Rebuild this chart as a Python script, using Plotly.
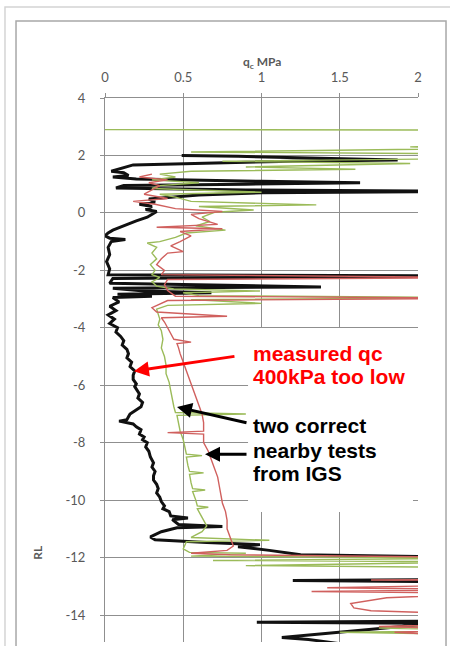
import plotly.graph_objects as go

# ---------------- data (qc in MPa, RL in m) ----------------
black_rl = [2.00, 1.97, 1.84, 1.80, 1.67, 1.55, 1.45, 1.40, 1.30, 1.25, 1.18, 1.10, 1.05, 1.00,
            0.95, 0.87, 0.80, 0.75, 0.70, 0.62, 0.55, 0.48, 0.38, 0.30, 0.22, 0.12, 0.05, -0.05,
            -0.15, -0.28, -0.40, -0.50, -0.60, -0.70, -0.80, -0.88, -0.93, -1.00, -1.20, -1.45,
            -1.70, -1.95, -2.15, -2.20, -2.28, -2.45, -2.55, -2.58, -2.62, -2.72, -2.78, -2.83,
            -2.90, -2.95, -3.10, -3.25, -3.40, -3.55, -3.70, -3.85, -4.00, -4.15, -4.30, -4.45,
            -4.60, -4.75, -4.90, -5.05, -5.20, -5.35, -5.50, -5.65, -5.80, -5.95, -6.05, -6.20,
            -6.30, -6.45, -6.60, -6.75, -6.85, -7.00, -7.10, -7.20, -7.25, -7.35, -7.45, -7.55,
            -7.70, -7.80, -7.90, -8.00, -8.15, -8.30, -8.50, -8.70, -8.85, -9.00, -9.15, -9.30,
            -9.45, -9.60, -9.75, -9.90, -10.05, -10.20, -10.30, -10.40, -10.55, -10.62, -10.68,
            -10.85, -10.92, -10.96, -11.10, -11.28, -11.38, -11.48, -11.55, -11.62, -11.75, -11.90,
            -12.00, -12.10, -12.75, -12.80, -12.85, -14.20, -14.25, -14.30, -14.35, -14.78, -14.85,
            -15.00]
black_qc = [0.49, 0.85, 1.87, 1.20, 0.18, 0.10, 0.04, 0.12, 0.15, 0.05, 0.20, 1.00, 1.63, 0.90,
            0.12, 0.07, 0.90, 2.50, 1.00, 0.60, 0.45, 0.28, 0.32, 0.22, 0.30, 0.26, 0.33, 0.30,
            0.27, 0.20, 0.14, 0.10, 0.05, 0.02, 0.00, 0.03, 0.13, 0.04, 0.02, 0.03,
            0.01, 0.03, 0.02, 2.50, 0.05, 0.03, 1.00, 1.38, 0.05, 0.25, 0.68, 0.08,
            0.30, 0.05, 0.09, 0.03, 0.07, 0.02, 0.06, 0.03, 0.08, 0.07, 0.10, 0.12,
            0.11, 0.14, 0.15, 0.14, 0.17, 0.16, 0.19, 0.18, 0.18, 0.20, 0.19, 0.21,
            0.22, 0.21, 0.24, 0.23, 0.20, 0.16, 0.15, 0.14, 0.09, 0.18, 0.20, 0.23,
            0.22, 0.25, 0.24, 0.27, 0.26, 0.28, 0.29, 0.31, 0.30, 0.32, 0.31, 0.31,
            0.33, 0.34, 0.33, 0.35, 0.36, 0.38, 0.37, 0.41, 0.42, 0.53, 0.43,
            0.47, 0.75, 0.46, 0.36, 0.29, 0.32, 0.65, 0.99, 0.85, 1.05, 1.25,
            2.50, 2.50, 2.50, 1.20, 2.50, 2.50, 0.97, 2.50, 2.00, 1.13, 1.30,
            1.50]

green_rl = [2.90, 2.88, 2.35, 2.30, 2.25, 2.12, 2.05, 1.90, 1.80, 1.72, 1.60, 1.52, 1.45, 1.35,
            1.25, 1.15, 1.05, 0.95, 0.85, 0.72, 0.65, 0.55, 0.40, 0.28, 0.22, 0.10, 0.02, -0.15,
            -0.30, -0.45, -0.60, -0.70, -0.85, -1.00, -1.05, -1.20, -1.40, -1.60, -1.80, -2.00,
            -2.15, -2.25, -2.40, -2.55, -2.65, -2.72, -2.78, -2.88, -2.95, -3.02, -3.15, -3.22,
            -3.35, -3.50, -3.70, -3.90, -4.10, -4.40, -4.70, -5.00, -5.30, -5.60, -5.90, -6.20,
            -6.50, -6.75, -6.95, -7.00, -7.05, -7.30, -7.60, -7.90, -8.20, -8.40, -8.45, -8.50,
            -8.80, -9.00, -9.05, -9.10, -9.40, -9.60, -9.65, -9.70, -10.00, -10.20, -10.25,
            -10.30, -10.60, -10.90, -11.10, -11.30, -11.40, -11.45, -11.70, -11.82, -11.85,
            -11.95, -12.02, -12.10, -12.15, -12.28, -12.35, -14.35, -14.45, -14.55, -14.60,
            -14.70, -15.00]
green_qc = [0.00, 2.50, 2.50, 1.95, 2.50, 0.55, 2.50, 2.50, 0.75, 1.95, 0.90, 1.60, 0.55, 0.35,
            0.45, 0.30, 0.60, 0.35, 0.30, 1.00, 0.35, 0.45, 0.55, 1.35, 0.60, 0.95, 0.70, 0.62,
            0.67, 0.58, 0.77, 0.52, 0.45, 0.35, 0.27, 0.33, 0.30, 0.33, 0.29, 0.32,
            0.30, 0.35, 0.30, 0.33, 0.44, 0.99, 0.50, 0.60, 2.50, 0.55, 1.00, 0.40,
            0.33, 0.34, 0.35, 0.34, 0.36, 0.37, 0.36, 0.38, 0.39, 0.39, 0.41, 0.42,
            0.43, 0.44, 0.45, 0.90, 0.46, 0.47, 0.48, 0.50, 0.51, 0.52, 0.62, 0.52,
            0.53, 0.54, 0.63, 0.54, 0.55, 0.56, 0.64, 0.56, 0.58, 0.59, 0.66,
            0.59, 0.62, 0.65, 0.62, 0.55, 1.05, 0.52, 0.50, 0.54, 0.90,
            0.55, 2.50, 0.69, 2.50, 0.90, 2.50, 2.50, 1.75, 2.50, 1.50,
            2.50, 2.50]

red_rl = [1.35, 1.25, 1.15, 1.05, 0.95, 0.80, 0.65, 0.50, 0.40, 0.30, 0.15, 0.05, -0.05, -0.20,
          -0.40, -0.50, -0.55, -0.65, -0.80, -1.00, -1.15, -1.35, -1.40, -1.60, -1.80, -2.00,
          -2.15, -2.25, -2.32, -2.50, -2.70, -2.90, -2.97, -3.05, -3.30, -3.45, -3.60, -3.65,
          -3.80, -4.00, -4.20, -4.40, -4.50, -4.55, -4.70, -4.90, -5.20, -5.50, -5.80, -6.10,
          -6.40, -6.70, -7.00, -7.30, -7.60, -7.65, -7.70, -8.00, -8.30, -8.60, -8.90, -9.20,
          -9.50, -9.80, -10.10, -10.40, -10.70, -11.00, -11.30, -11.60, -11.75, -11.85, -11.90,
          -12.00, -12.75, -12.78, -12.82, -12.95, -13.05, -13.12, -13.18, -13.25, -13.40, -13.60,
          -13.75, -13.85, -14.00, -14.30, -14.40, -14.50, -14.60, -14.80, -15.00]
red_qc = [0.30, 0.22, 0.40, 0.28, 0.35, 0.30, 0.25, 0.40, 0.18, 0.32, 0.45, 0.75, 0.55, 0.60,
          0.72, 0.33, 0.75, 0.48, 0.55, 0.48, 0.42, 0.50, 0.40, 0.36, 0.33, 0.38,
          0.36, 2.50, 0.40, 0.38, 0.40, 0.45, 2.50, 0.40, 0.30, 0.33, 0.78, 0.36,
          0.38, 0.40, 0.42, 0.44, 0.55, 0.46, 0.47, 0.48, 0.50, 0.52, 0.54, 0.56,
          0.58, 0.60, 0.62, 0.63, 0.63, 0.40, 0.63, 0.63, 0.66, 0.68, 0.70, 0.72,
          0.73, 0.74, 0.75, 0.77, 0.78, 0.78, 0.80, 0.82, 0.78, 0.55, 0.80,
          2.50, 2.50, 1.70, 2.50, 2.50, 1.42, 2.50, 1.32, 2.50, 1.80, 1.57,
          1.59, 1.70, 2.50, 2.50, 1.75, 2.50, 1.85, 2.50, 2.50]

x_ticks = [0, 0.5, 1, 1.5, 2]
x_tick_text = ["0", "0.5", "1", "1.5", "2"]
y_ticks = [4, 2, 0, -2, -4, -6, -8, -10, -12, -14]
y_tick_text = ["4", "2", "0", "-2", "-4", "-6", "-8", "-10", "-12", "-14"]

# ---------------- figure ----------------
fig = go.Figure()
fig.add_trace(go.Scatter(x=black_qc, y=black_rl, mode="lines",
                         line=dict(color="#111111", width=3), showlegend=False))
fig.add_trace(go.Scatter(x=green_qc, y=green_rl, mode="lines",
                         line=dict(color="#9BBB59", width=1.4), showlegend=False))
fig.add_trace(go.Scatter(x=red_qc, y=red_rl, mode="lines",
                         line=dict(color="#D0605E", width=1.4), showlegend=False))

grid = "#8f8f8f"
tickfont = dict(family="Lato, Liberation Sans, sans-serif", size=13, color="#595959")

fig.update_layout(
    width=450, height=646,
    margin=dict(l=105, r=32, t=98, b=4),
    paper_bgcolor="white", plot_bgcolor="white",
    xaxis=dict(side="top", range=[0, 2], tickvals=x_ticks, ticktext=x_tick_text,
               showgrid=True, gridcolor=grid, gridwidth=1, zeroline=False,
               showline=True, linecolor=grid, ticks="outside", ticklen=4, tickcolor=grid,
               tickfont=tickfont, ticklabelstandoff=6),
    yaxis=dict(range=[-14.94, 4], tickvals=y_ticks, ticktext=y_tick_text,
               showgrid=True, gridcolor=grid, gridwidth=1, zeroline=False,
               showline=True, linecolor=grid, ticks="outside", ticklen=4, tickcolor=grid,
               tickfont=tickfont, ticklabelstandoff=12),
)

# chart frame (outer + inner border)
fig.add_shape(type="rect", xref="paper", yref="paper", x0=-0.3195, x1=1.134, y0=-0.11, y1=1.1673,
              line=dict(color="#d4d4d4", width=1.5), fillcolor="rgba(0,0,0,0)", layer="below")
fig.add_shape(type="rect", xref="paper", yref="paper", x0=-0.2843, x1=1.0895, y0=-0.11, y1=1.1415,
              line=dict(color="#a8a8a8", width=1.5), fillcolor="rgba(0,0,0,0)", layer="below")

# white callout boxes
fig.add_shape(type="rect", xref="x", yref="y", x0=0.914, x1=2.03, y0=-9.65, y1=-4.01,
              line=dict(width=0), fillcolor="white", layer="above")
fig.add_shape(type="rect", xref="x", yref="y", x0=0.914, x1=1.968, y0=-10.41, y1=-9.64,
              line=dict(width=0), fillcolor="white", layer="above")

# axis titles
fig.add_annotation(xref="paper", yref="paper", x=0.50, y=1.066, xanchor="center", yanchor="middle",
                   showarrow=False, text="<b>q<sub>c</sub> MPa</b>",
                   font=dict(family="Lato, Liberation Sans, sans-serif", size=12, color="#595959"))
fig.add_annotation(xref="paper", yref="paper", x=-0.214, y=0.164, xanchor="center", yanchor="middle",
                   showarrow=False, text="<b>RL</b>", textangle=-90,
                   font=dict(family="Lato, Liberation Sans, sans-serif", size=12, color="#595959"))

# callout texts
callfont = "Liberation Sans, Arial, sans-serif"
red_lines = [("measured qc", -4.88), ("400kPa too low", -5.68)]
black_lines = [("two correct", -7.39), ("nearby tests", -8.26), ("from IGS", -9.06)]
for txt, yy in red_lines:
    fig.add_annotation(xref="x", yref="y", x=0.93, y=yy, xanchor="left", yanchor="middle",
                       showarrow=False, text="<b>" + txt + "</b>",
                       font=dict(family=callfont, size=21, color="#FF0000"))
for txt, yy in black_lines:
    fig.add_annotation(xref="x", yref="y", x=0.93, y=yy, xanchor="left", yanchor="middle",
                       showarrow=False, text="<b>" + txt + "</b>",
                       font=dict(family=callfont, size=21, color="#000000"))

# arrows
fig.add_annotation(xref="x", yref="y", x=0.185, y=-5.51, ax=102, ay=-15, text="",
                   showarrow=True, arrowhead=2, arrowsize=1, arrowwidth=3, arrowcolor="#FF0000",
                   standoff=0)
fig.add_annotation(xref="x", yref="y", x=0.46, y=-6.76, ax=71, ay=16, text="",
                   showarrow=True, arrowhead=2, arrowsize=1, arrowwidth=3, arrowcolor="#000000",
                   standoff=0)
fig.add_annotation(xref="x", yref="y", x=0.639, y=-8.40, ax=43, ay=0, text="",
                   showarrow=True, arrowhead=2, arrowsize=1, arrowwidth=3, arrowcolor="#000000",
                   standoff=0)

fig.write_html("out.html")
